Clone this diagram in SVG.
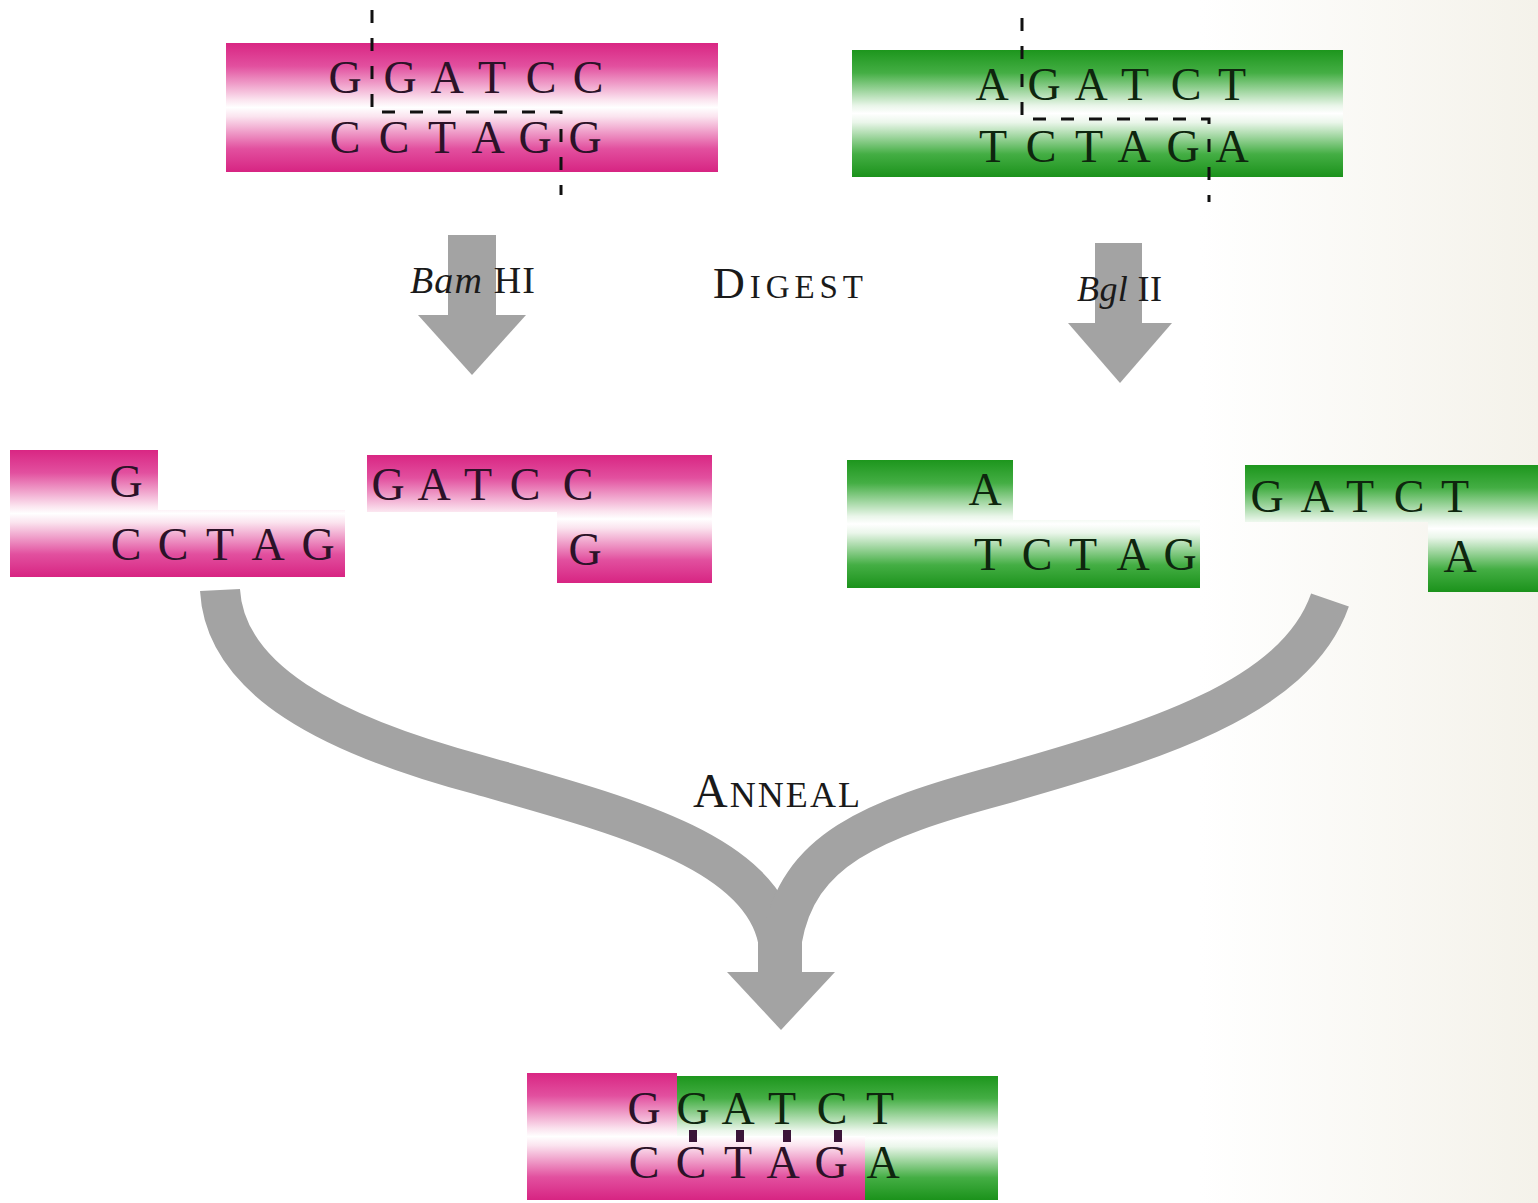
<svg xmlns="http://www.w3.org/2000/svg" width="1538" height="1203" viewBox="0 0 1538 1203">
<style>
.b{font-family:"Liberation Serif","Times New Roman",serif;font-size:46px;text-anchor:middle}
.pk{fill:#2c1228}
.gk{fill:#0e260e}
.lbl{font-family:"Liberation Serif","Times New Roman",serif;fill:#1a1a1a}
.cut{fill:none;stroke:#111;stroke-width:3;stroke-dasharray:13 15}
.arr{fill:#a3a3a3}
.br{fill:none;stroke:#a3a3a3;stroke-width:40}
</style>
<defs>
<linearGradient id="pg" x1="0" y1="0" x2="0" y2="1">
<stop offset="0" stop-color="#d92683"/>
<stop offset="0.18" stop-color="#e2509f"/>
<stop offset="0.44" stop-color="#fbe4ef"/>
<stop offset="0.5" stop-color="#ffffff"/>
<stop offset="0.57" stop-color="#fbe4ef"/>
<stop offset="0.82" stop-color="#e2509f"/>
<stop offset="1" stop-color="#d72482"/>
</linearGradient>
<linearGradient id="gg" x1="0" y1="0" x2="0" y2="1">
<stop offset="0" stop-color="#1d961d"/>
<stop offset="0.18" stop-color="#44ae44"/>
<stop offset="0.44" stop-color="#eaf6ea"/>
<stop offset="0.5" stop-color="#ffffff"/>
<stop offset="0.57" stop-color="#eaf6ea"/>
<stop offset="0.82" stop-color="#44ae44"/>
<stop offset="1" stop-color="#1b921b"/>
</linearGradient>
<linearGradient id="bgr" x1="0" y1="0" x2="1" y2="0">
<stop offset="0" stop-color="#ffffff"/>
<stop offset="1" stop-color="#f4f2ea"/>
</linearGradient>
</defs>
<rect width="1538" height="1203" fill="#ffffff"/>
<rect x="1200" y="0" width="338" height="1203" fill="url(#bgr)"/>

<g id="connectors">
<g id="digest-left">
<rect class="arr" x="448" y="235" width="48" height="82"/>
<polygon class="arr" points="418,315 526,315 472,375"/>
</g>
<g id="digest-right">
<rect class="arr" x="1095" y="243" width="47" height="82"/>
<polygon class="arr" points="1068,323 1172,323 1120,383"/>
</g>
<g id="anneal-arrow">
<path class="br" d="M220,590 C225,680 330,735 480,775 C620,815 760,850 778,940"/>
<path class="br" d="M1330,600 C1295,700 1150,742 1000,785 C870,820 798,850 782,940"/>
<rect class="arr" x="758" y="920" width="44" height="55"/>
<polygon class="arr" points="727,972 835,972 781,1030"/>
</g>
</g>

<g id="bamhi-site">
<rect x="226" y="43" width="492" height="129" fill="url(#pg)"/>
<text class="b pk" x="345 400 447 492 541 588" y="93">GGATCC</text>
<text class="b pk" x="345 394 442 488 535 585" y="153">CCTAGG</text>
<path class="cut" d="M372,10 V112 H561 V195"/>
</g>

<g id="bglii-site">
<rect x="852" y="50" width="491" height="127" fill="url(#gg)"/>
<text class="b gk" x="992 1044 1091 1135 1186 1232" y="100">AGATCT</text>
<text class="b gk" x="993 1041 1089 1134 1183 1232" y="162">TCTAGA</text>
<path class="cut" d="M1022,18 V119 H1209 V202"/>
</g>

<g id="label-bamhi">
<text class="lbl" x="410" y="293" font-size="38" textLength="125" lengthAdjust="spacing"><tspan font-style="italic">Bam</tspan> HI</text>
</g>
<g id="label-digest">
<text class="lbl" x="713" y="298" textLength="150" lengthAdjust="spacing"><tspan font-size="44">D</tspan><tspan font-size="33">IGEST</tspan></text>
</g>
<g id="label-bglii">
<text class="lbl" x="1077" y="301" font-size="36" textLength="85" lengthAdjust="spacing"><tspan font-style="italic">Bgl</tspan> II</text>
</g>

<g id="frag-bam-left">
<path d="M10,450 H158 V510 H345 V577 H10 Z" fill="url(#pg)"/>
<text class="b pk" x="126" y="497">G</text>
<text class="b pk" x="126 173 220 268 318" y="560">CCTAG</text>
</g>
<g id="frag-bam-right">
<path d="M367,455 H712 V583 H557 V512 H367 Z" fill="url(#pg)"/>
<text class="b pk" x="388 434 478 525 578" y="500">GATCC</text>
<text class="b pk" x="585" y="565">G</text>
</g>
<g id="frag-bgl-left">
<path d="M847,460 H1013 V520 H1200 V588 H847 Z" fill="url(#gg)"/>
<text class="b gk" x="985" y="505">A</text>
<text class="b gk" x="988 1037 1083 1133 1180" y="570">TCTAG</text>
</g>
<g id="frag-bgl-right">
<path d="M1245,465 H1538 V592 H1428 V522 H1245 Z" fill="url(#gg)"/>
<text class="b gk" x="1267 1317 1360 1409 1455" y="512">GATCT</text>
<text class="b gk" x="1460" y="572">A</text>
</g>

<g id="label-anneal">
<text class="lbl" x="693" y="807" textLength="167" lengthAdjust="spacing"><tspan font-size="48">A</tspan><tspan font-size="36">NNEAL</tspan></text>
</g>

<g id="hybrid">
<path d="M527,1073 H677 V1136 H865 V1200 H527 Z" fill="url(#pg)"/>
<path d="M677,1076 H998 V1200 H865 V1136 H677 Z" fill="url(#gg)"/>
<text class="b pk" x="644" y="1124">G</text>
<text class="b gk" x="693 738 782 832 880" y="1124">GATCT</text>
<text class="b pk" x="644 691 738 783 831" y="1178">CCTAG</text>
<text class="b gk" x="883" y="1178">A</text>
<g fill="#3a1538">
<rect x="689" y="1130" width="8" height="12"/>
<rect x="736" y="1130" width="8" height="12"/>
<rect x="783" y="1130" width="8" height="12"/>
<rect x="834" y="1130" width="8" height="12"/>
</g>
</g>
</svg>
